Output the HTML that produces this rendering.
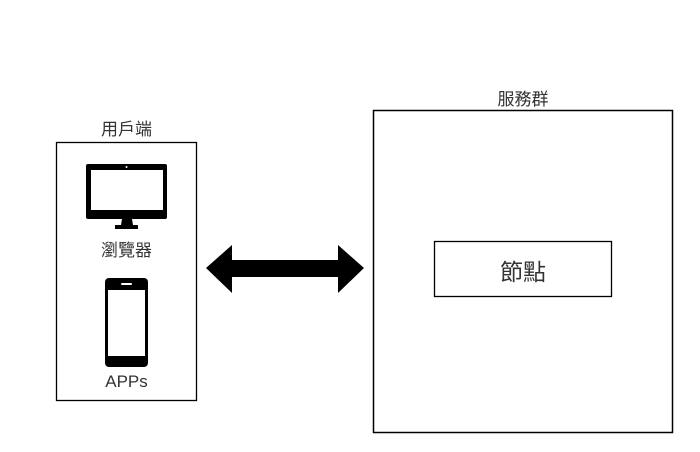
<!DOCTYPE html>
<html><head><meta charset="utf-8"><style>
html,body{margin:0;padding:0;background:#fff;}
body{width:700px;height:452px;overflow:hidden;position:relative;}
.t{position:absolute;font-family:"Liberation Sans","Noto Sans CJK TC",sans-serif;color:#333;text-align:center;}
</style></head><body>
<svg width="700" height="452" style="position:absolute;left:0;top:0">
<rect x="56.5" y="142.5" width="140" height="258" fill="#fff" stroke="#000" stroke-width="1.3"/>
<rect x="373.5" y="110.5" width="299" height="322" fill="#fff" stroke="#000" stroke-width="1.5"/>
<rect x="434.5" y="241.5" width="177" height="55" fill="#fff" stroke="#000" stroke-width="1.3"/>
<rect x="86" y="164" width="81" height="55" rx="2" fill="#000"/>
<rect x="91" y="170" width="72" height="40" fill="#fff"/>
<circle cx="126.5" cy="167" r="1" fill="#fff"/>
<path d="M122 219 H132 L133 225 H138 V229 H115 V225 H121 Z" fill="#000"/>
<rect x="105" y="278" width="43" height="89" rx="4" fill="#000"/>
<rect x="108" y="290" width="37" height="66" fill="#fff"/>
<rect x="121" y="283" width="11" height="2" rx="1" fill="#fff"/>
<path d="M206 268 L232 245 V260 H338 V245 L364 268 L338 293 V277 H232 V293 Z" fill="#000"/>
</svg>
<div class="t" style="left:56px;top:115px;width:141px;font-size:17px;">用戶端</div>
<div class="t" style="left:56px;top:236px;width:141px;font-size:17px;">瀏覽器</div>
<div class="t" style="left:56px;top:372px;width:141px;font-size:17px;">APPs</div>
<div class="t" style="left:373px;top:85px;width:300px;font-size:17px;">服務群</div>
<div class="t" style="left:434px;top:253px;width:178px;font-size:23px;">節點</div>
</body></html>
